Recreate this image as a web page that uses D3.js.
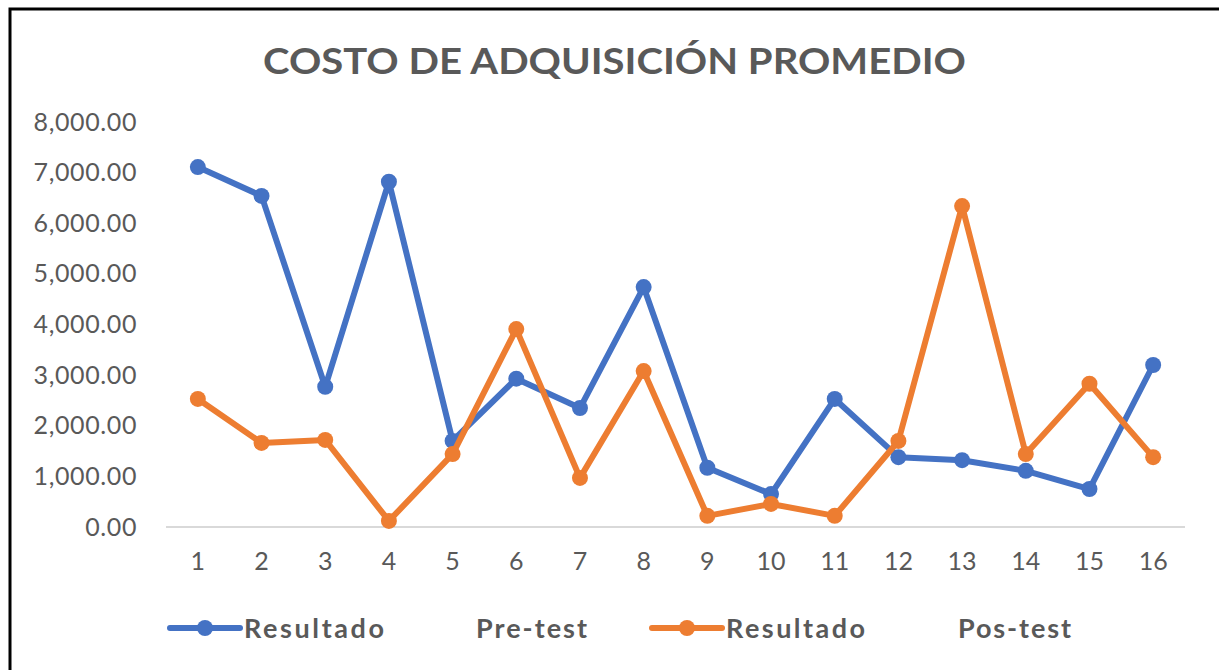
<!DOCTYPE html>
<html>
<head>
<meta charset="utf-8">
<script src="https://cdn.jsdelivr.net/npm/d3@7"></script>
<style>
  body { margin: 0; background: #fff; }
  svg text { font-family: Lato, "Open Sans", sans-serif; }
</style>
</head>
<body>
<div class="graph"></div>
<script>
let categories = ["1", "2", "3", "4", "5", "6", "7", "8", "9", "10", "11", "12", "13", "14", "15", "16"];
let preTest = [7110, 6540, 2770, 6820, 1700, 2930, 2350, 4740, 1170, 650, 2530, 1380, 1320, 1110, 750, 3200];
let posTest = [2530, 1660, 1720, 120, 1440, 3910, 970, 3080, 220, 455, 220, 1700, 6340, 1440, 2830, 1380];
let yTicks = [0, 1000, 2000, 3000, 4000, 5000, 6000, 7000, 8000];
let seriesNames = [["Resultado", "Pre-test"], ["Resultado", "Pos-test"]];
let colors = ["#4472c4", "#ed7d31"];

let w = 1219;
let h = 670;
let gray = "#595959";

let svgvar = d3
  .select(".graph")
  .append("svg")
  .attr("width", w)
  .attr("height", h);

svgvar
  .append("rect")
  .attr("x", 10)
  .attr("y", 9)
  .attr("width", w + 20)
  .attr("height", h + 20)
  .style("fill", "none")
  .style("stroke", "#000")
  .style("stroke-width", 3);

svgvar
  .append("text")
  .attr("x", 263)
  .attr("y", 74)
  .attr("textLength", 703)
  .attr("lengthAdjust", "spacingAndGlyphs")
  .style("font-size", "37px")
  .style("font-weight", "bold")
  .style("fill", gray)
  .text("COSTO DE ADQUISICIÓN PROMEDIO");

let xScale = d3.scaleBand().domain(categories).range([166, 1185]);
let yScale = d3.scaleLinear().domain([0, 8000]).range([527, 122]);

// y labels
let yAxis = d3.axisLeft(yScale).tickValues(yTicks).tickFormat(d3.format(",.2f")).tickSize(0).tickPadding(0);
let gy = svgvar.append("g").attr("transform", "translate(137, 0)").call(yAxis);
gy.select(".domain").remove();
gy.selectAll("text").style("font-size", "25px").style("letter-spacing", "0.6px").style("fill", gray).style("font-family", "Lato, sans-serif");

// baseline
svgvar
  .append("line")
  .attr("x1", 166)
  .attr("x2", 1185)
  .attr("y1", yScale(0))
  .attr("y2", yScale(0))
  .style("stroke", "#d9d9d9")
  .style("stroke-width", 2);

let xAxis = d3.axisBottom(xScale).tickSize(0).tickPadding(0);
let gx = svgvar.append("g").attr("transform", "translate(0, 552)").call(xAxis);
gx.select(".domain").remove();
gx.selectAll("text").style("font-size", "25px").style("fill", gray).style("font-family", "Lato, sans-serif");

let xc = function (d, i) {
  return xScale(categories[i]) + xScale.bandwidth() / 2;
};

[preTest, posTest].forEach(function (series, k) {
  let line = d3
    .line()
    .x(xc)
    .y(function (d) {
      return yScale(d);
    });
  svgvar
    .append("path")
    .datum(series)
    .attr("d", line)
    .style("fill", "none")
    .style("stroke", colors[k])
    .style("stroke-width", 6)
    .style("stroke-linejoin", "round");
  svgvar
    .append("g")
    .selectAll("circle")
    .data(series)
    .enter()
    .append("circle")
    .attr("cx", xc)
    .attr("cy", function (d) {
      return yScale(d);
    })
    .attr("r", 8)
    .style("fill", colors[k]);
});

// legend
let legendX = [170, 652];
let nameW = [[140, 111], [139, 113]];
seriesNames.forEach(function (names, k) {
  let lg = svgvar.append("g").attr("transform", "translate(" + legendX[k] + ", 628)");
  lg.append("line")
    .attr("x1", 0)
    .attr("x2", 70)
    .style("stroke", colors[k])
    .style("stroke-width", 6)
    .style("stroke-linecap", "round");
  lg.append("circle").attr("cx", 35).attr("r", 8).style("fill", colors[k]);
  lg.append("text")
    .attr("x", 74)
    .attr("y", 10)
    .attr("textLength", nameW[k][0])
    .attr("lengthAdjust", "spacing")
    .style("font-size", "27px")
    .style("font-weight", "bold")
    .style("fill", gray)
    .text(names[0]);
  lg.append("text")
    .attr("x", 306)
    .attr("y", 10)
    .attr("textLength", nameW[k][1])
    .attr("lengthAdjust", "spacing")
    .style("font-size", "27px")
    .style("font-weight", "bold")
    .style("fill", gray)
    .text(names[1]);
});
</script>
</body>
</html>
